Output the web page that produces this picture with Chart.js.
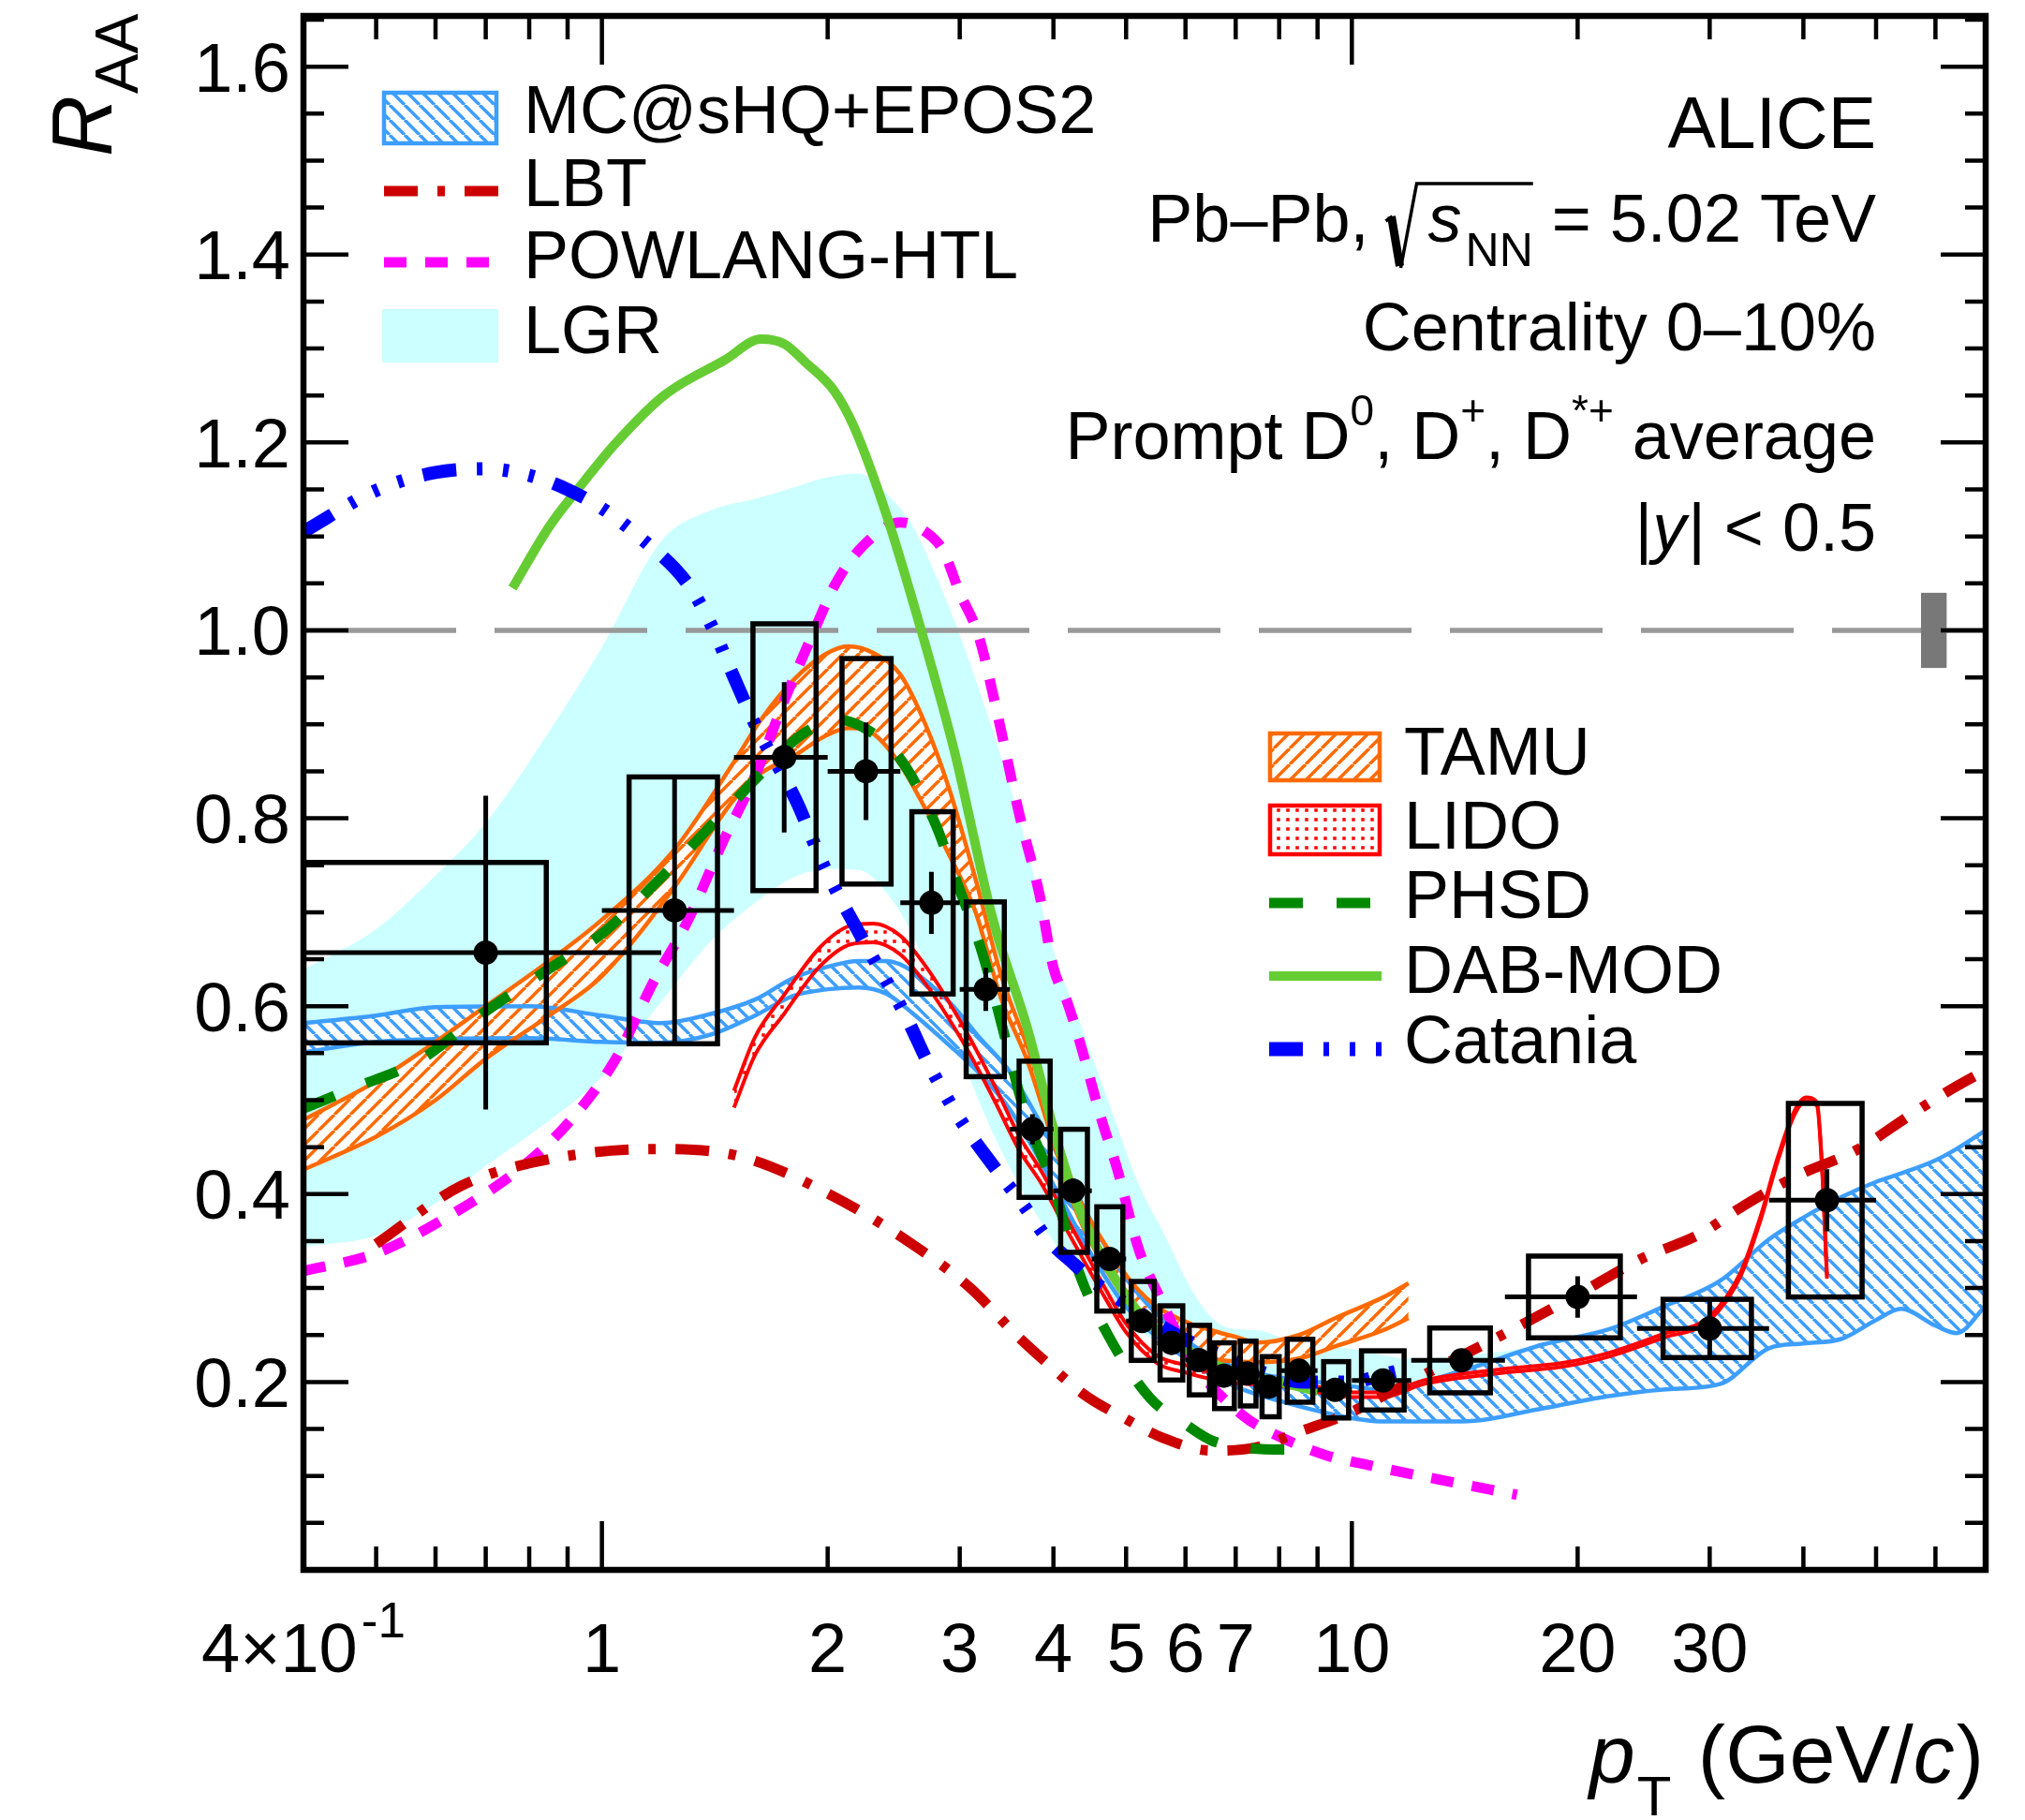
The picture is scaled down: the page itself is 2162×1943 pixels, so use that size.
<!DOCTYPE html>
<html>
<head>
<meta charset="utf-8">
<title>Prompt D-meson RAA, Pb-Pb 5.02 TeV</title>
<script src="https://cdn.jsdelivr.net/npm/chart.js@4.4.1/dist/chart.umd.min.js"></script>
<style>
  html, body { margin: 0; padding: 0; background: #fff; }
  canvas { display: block; }
</style>
</head>
<body>
<canvas id="raaChart" width="2162" height="1943"></canvas>
<script>
// ---------------- measured points (ALICE, 0-10%) ----------------
const ptC = [0.7, 1.25, 1.75, 2.25, 2.75, 3.25, 3.75, 4.25, 4.75, 5.25, 5.75, 6.25, 6.75, 7.25, 7.75, 8.5, 9.5, 11, 14, 20, 30, 43];
const ptLo = [0.2, 1, 1.5, 2, 2.5, 3, 3.5, 4, 4.5, 5, 5.5, 6, 6.5, 7, 7.5, 8, 9, 10, 12, 16, 24, 36];
const ptHi = [1.2, 1.5, 2, 2.5, 3, 3.5, 4, 4.5, 5, 5.5, 6, 6.5, 7, 7.5, 8, 9, 10, 12, 16, 24, 36, 50];
const raa = [0.657, 0.702, 0.865, 0.85, 0.71, 0.618, 0.469, 0.4035, 0.331, 0.265, 0.2416, 0.2233, 0.2067, 0.209, 0.195, 0.212, 0.1917, 0.2017, 0.223, 0.2905, 0.257, 0.3935];
const statErr = [0.167, 0.14, 0.08, 0.052, 0.033, 0.023, 0.016, 0.013, 0.012, 0.011, 0.011, 0.01, 0.01, 0.01, 0.01, 0.01, 0.01, 0.012, 0.012, 0.022, 0.029, 0.033];
const systErr = [0.096, 0.142, 0.142, 0.12, 0.097, 0.093, 0.0725, 0.0655, 0.0555, 0.042, 0.0395, 0.037, 0.035, 0.0345, 0.032, 0.0335, 0.03, 0.0315, 0.0345, 0.0435, 0.031, 0.103];
const boxLo = [0.35, 1.087, 1.59, 2.09, 2.59, 3.06, 3.6, 4.09, 4.57, 5.08, 5.55, 6.07, 6.56, 7.1, 7.59, 8.2, 9.17, 10.3, 12.7, 17.2, 26, 38.2];
const boxHi = [0.843, 1.426, 1.93, 2.43, 2.94, 3.44, 3.96, 4.44, 4.95, 5.45, 5.95, 6.46, 6.97, 7.45, 8.0, 8.87, 9.9, 11.74, 15.3, 22.8, 34.1, 47.9];

// normalisation uncertainty box at RAA = 1
const normPt = [57.4, 62.1];
const normR = [0.96, 1.04];

// ---------------- model bands ----------------
const lgrPt = [0.4, 0.5, 0.6, 0.7, 0.85, 1.0, 1.2, 1.4, 1.6, 1.8, 2.0, 2.2, 2.4, 2.6, 2.8, 3.0, 3.3, 3.6, 4.0, 4.4, 4.8, 5.2, 5.6, 6.2, 6.8, 7.5, 8.2, 9, 10, 12, 15, 20, 25, 30, 35, 40];
const lgrHigh = [0.639, 0.682, 0.739, 0.795, 0.892, 0.982, 1.095, 1.128, 1.14, 1.152, 1.163, 1.167, 1.145, 1.11, 1.055, 0.995, 0.9, 0.8, 0.66, 0.57, 0.485, 0.41, 0.36, 0.29, 0.258, 0.255, 0.245, 0.24, 0.235, 0.225, 0.23, 0.245, 0.26, 0.27, 0.3, 0.33];
const lgrLow = [0.344, 0.356, 0.39, 0.43, 0.478, 0.525, 0.605, 0.67, 0.71, 0.737, 0.746, 0.745, 0.72, 0.675, 0.61, 0.55, 0.47, 0.41, 0.35, 0.31, 0.28, 0.255, 0.24, 0.225, 0.215, 0.205, 0.2, 0.195, 0.19, 0.19, 0.195, 0.205, 0.215, 0.225, 0.24, 0.26];

const mcPt = [0.4, 0.5, 0.6, 0.8, 1.0, 1.2, 1.4, 1.6, 1.8, 2.0, 2.2, 2.4, 2.6, 2.9, 3.2, 3.5, 4.0, 4.5, 5.0, 6.0, 7.0, 8.0, 9.5, 11, 14, 18, 22, 26, 31, 36, 40, 45, 50, 54, 60, 64, 70];
const mcHigh = [0.582, 0.59, 0.599, 0.6, 0.59, 0.582, 0.592, 0.607, 0.63, 0.642, 0.648, 0.648, 0.637, 0.605, 0.565, 0.53, 0.45, 0.37, 0.31, 0.245, 0.215, 0.205, 0.198, 0.192, 0.212, 0.24, 0.256, 0.28, 0.308, 0.352, 0.375, 0.397, 0.413, 0.422, 0.436, 0.448, 0.468];
const mcLow = [0.551, 0.562, 0.565, 0.566, 0.562, 0.561, 0.57, 0.59, 0.611, 0.618, 0.62, 0.613, 0.592, 0.559, 0.527, 0.49, 0.41, 0.335, 0.28, 0.225, 0.195, 0.18, 0.165, 0.158, 0.158, 0.172, 0.185, 0.192, 0.198, 0.236, 0.241, 0.246, 0.266, 0.278, 0.26, 0.252, 0.281];

const tamuPt = [0.4, 0.5, 0.6, 0.7, 0.85, 1.0, 1.25, 1.5, 1.63, 1.8, 1.98, 2.13, 2.3, 2.5, 2.7, 2.9, 3.15, 3.4, 3.7, 4.0, 4.3, 4.7, 5.1, 5.5, 6.1, 6.5, 7.0, 7.5, 8.5, 9.5, 11, 11.9];
const tamuHigh = [0.479, 0.52, 0.562, 0.6, 0.648, 0.692, 0.767, 0.86, 0.905, 0.947, 0.974, 0.983, 0.976, 0.953, 0.9, 0.833, 0.735, 0.635, 0.555, 0.475, 0.4, 0.345, 0.305, 0.28, 0.262, 0.255, 0.248, 0.242, 0.25, 0.268, 0.29, 0.305];
const tamuLow = [0.426, 0.461, 0.5, 0.544, 0.59, 0.632, 0.727, 0.82, 0.848, 0.866, 0.887, 0.896, 0.89, 0.857, 0.81, 0.762, 0.7, 0.61, 0.54, 0.455, 0.38, 0.32, 0.28, 0.255, 0.235, 0.225, 0.222, 0.221, 0.225, 0.238, 0.255, 0.268];

const lidoPt = [1.5, 1.6, 1.75, 1.95, 2.15, 2.3, 2.5, 2.7, 2.9, 3.1, 3.35, 3.6, 3.85, 4.1, 4.4, 4.7, 5.0, 5.5, 6.0, 6.5, 7.0, 8.0, 9.0, 10, 11, 12.5, 16, 19, 22, 26, 30, 33, 35, 37, 39, 40.3, 41.7, 42.4, 43];
const lidoHigh = [0.51, 0.567, 0.612, 0.662, 0.686, 0.688, 0.675, 0.643, 0.605, 0.565, 0.513, 0.462, 0.425, 0.385, 0.34, 0.298, 0.262, 0.228, 0.218, 0.21, 0.206, 0.202, 0.195, 0.189, 0.189, 0.202, 0.214, 0.22, 0.231, 0.251, 0.27, 0.317, 0.374, 0.44, 0.49, 0.503, 0.498, 0.424, 0.314];
const lidoLow = [0.492, 0.548, 0.592, 0.642, 0.666, 0.668, 0.655, 0.624, 0.587, 0.548, 0.497, 0.447, 0.412, 0.372, 0.328, 0.288, 0.253, 0.22, 0.21, 0.203, 0.199, 0.196, 0.189, 0.184, 0.184, 0.198, 0.21, 0.216, 0.227, 0.247, 0.266, 0.313, 0.37, 0.436, 0.486, 0.499, 0.494, 0.42, 0.31];

// ---------------- model curves ----------------
const lbtPt = [0.5, 0.65, 0.85, 1.17, 1.53, 2.02, 2.59, 3.1, 3.55, 3.9, 4.39, 4.96, 5.62, 6.49, 7.41, 8.58, 9.8, 11, 12.5, 15, 17.5, 20.2, 24.3, 29.2, 32.9, 38.9, 47.4, 55.5, 62.8, 70];
const lbtR = [0.347, 0.409, 0.437, 0.448, 0.44, 0.399, 0.347, 0.3, 0.252, 0.222, 0.187, 0.162, 0.14, 0.127, 0.13, 0.148, 0.165, 0.185, 0.208, 0.24, 0.268, 0.295, 0.331, 0.358, 0.385, 0.418, 0.448, 0.484, 0.511, 0.532];

const powPt = [0.4, 0.5, 0.62, 0.78, 0.9, 1.04, 1.17, 1.3, 1.45, 1.6, 1.75, 1.92, 2.05, 2.23, 2.5, 2.7, 2.85, 3.0, 3.18, 3.37, 3.6, 3.83, 4.0, 4.17, 4.33, 4.63, 4.86, 5.2, 5.56, 6.13, 7.14, 8.0, 9.24, 10.6, 12.9, 16.6];
const powR = [0.318, 0.337, 0.375, 0.428, 0.475, 0.542, 0.625, 0.69, 0.775, 0.845, 0.925, 1.0, 1.05, 1.09, 1.115, 1.105, 1.085, 1.04, 0.994, 0.91, 0.805, 0.72, 0.641, 0.605, 0.564, 0.481, 0.428, 0.341, 0.288, 0.222, 0.165, 0.142, 0.122, 0.111, 0.097, 0.08];

const phsdPt = [0.4, 0.46, 0.57, 0.69, 0.84, 1.01, 1.21, 1.44, 1.65, 1.84, 2.06, 2.25, 2.49, 2.77, 2.99, 3.22, 3.45, 3.65, 4.0, 4.32, 4.73, 5.38, 6.0, 6.49, 7.2, 8.13, 8.6];
const phsdR = [0.491, 0.511, 0.542, 0.591, 0.637, 0.68, 0.74, 0.803, 0.852, 0.888, 0.905, 0.895, 0.865, 0.798, 0.727, 0.655, 0.566, 0.491, 0.408, 0.318, 0.25, 0.183, 0.155, 0.138, 0.13, 0.128, 0.128];

const dabPt = [0.76, 0.85, 0.95, 1.04, 1.21, 1.46, 1.63, 1.75, 1.87, 2.04, 2.17, 2.4, 2.67, 2.95, 3.32, 3.7, 4.0, 4.3, 4.75, 5.25, 6.0, 7.0, 8.0, 9.0];
const dabR = [1.045, 1.11, 1.16, 1.198, 1.25, 1.288, 1.31, 1.305, 1.285, 1.255, 1.216, 1.121, 0.998, 0.872, 0.693, 0.574, 0.47, 0.39, 0.32, 0.27, 0.235, 0.21, 0.2, 0.19];

const catPt = [0.4, 0.5, 0.6, 0.7, 0.8, 0.9, 1.0, 1.12, 1.3, 1.4, 1.5, 1.6, 1.815, 1.98, 2.22, 2.54, 2.74, 3.0, 3.32, 3.65, 3.94, 4.27, 4.51, 5.0, 5.5, 6.0, 6.7, 7.5, 8.6, 10, 11, 12];
const catR = [1.105, 1.149, 1.168, 1.172, 1.165, 1.15, 1.13, 1.1, 1.05, 1.005, 0.95, 0.9, 0.819, 0.748, 0.673, 0.59, 0.535, 0.48, 0.431, 0.388, 0.351, 0.325, 0.308, 0.283, 0.262, 0.245, 0.228, 0.212, 0.2, 0.2, 0.208, 0.215];

// ---------------- axis ticks ----------------
const xMinorTicks = [0.5, 0.6, 0.7, 0.8, 0.9, 2, 3, 4, 5, 6, 7, 8, 9, 20, 30, 40, 50, 60];
const xMajorTicks = [1, 10];
const xLabelValues = [1, 2, 3, 4, 5, 6, 7, 10, 20, 30];
const yLabels = ['0.2', '0.4', '0.6', '0.8', '1.0', '1.2', '1.4', '1.6'];

const FONT = '"Liberation Sans", Arial, Helvetica, sans-serif';
const col = {
  lgr: 'rgb(204,255,255)',
  mc: 'rgb(61,158,255)',
  tamu: 'rgb(255,106,0)',
  lido: 'rgb(255,0,0)',
  lbt: 'rgb(204,0,0)',
  pow: 'rgb(255,0,255)',
  phsd: 'rgb(0,136,0)',
  dab: 'rgb(102,204,51)',
  cat: 'rgb(0,0,255)',
  unity: 'rgb(153,153,153)'
};
const dashes = {
  lbt: [36, 21, 8, 21],
  pow: [24, 20],
  phsd: [36, 36],
  cat: [36, 22, 6, 22, 6, 22, 6, 22],
  unity: [163, 41]
};

const canvas = document.getElementById('raaChart');
const mainCtx = canvas.getContext('2d');

// hatch patterns (white background + diagonal lines)
function makeHatch(color, forward, step, lw) {
  const c = document.createElement('canvas');
  c.width = step;
  c.height = step;
  const g = c.getContext('2d');
  g.fillStyle = '#ffffff';
  g.fillRect(0, 0, step, step);
  g.strokeStyle = color;
  g.lineWidth = lw;
  g.beginPath();
  for (let k = -1; k <= 1; k++) {
    if (forward) {
      g.moveTo(k * step, step);
      g.lineTo((k + 1) * step, 0);
    } else {
      g.moveTo(k * step, 0);
      g.lineTo((k + 1) * step, step);
    }
  }
  g.stroke();
  return mainCtx.createPattern(c, 'repeat');
}

function makeDots(color, step, size) {
  const c = document.createElement('canvas');
  c.width = step;
  c.height = step;
  const g = c.getContext('2d');
  g.fillStyle = '#ffffff';
  g.fillRect(0, 0, step, step);
  g.fillStyle = color;
  g.fillRect(step / 2 - size / 2, step / 2 - size / 2, size, size);
  return mainCtx.createPattern(c, 'repeat');
}

const mcHatch = makeHatch(col.mc, false, 16, 3.5);
const tamuHatch = makeHatch(col.tamu, true, 17, 3.5);
const lidoDots = makeDots(col.lido, 10, 3.5);

function pts(xs, ys) {
  return xs.map((x, i) => ({ x: x, y: ys[i] }));
}

function curve(xs, ys, color, width, dash, order) {
  return {
    data: pts(xs, ys),
    borderColor: color,
    borderWidth: width,
    borderDash: dash || [],
    borderCapStyle: 'butt',
    pointRadius: 0,
    fill: false,
    cubicInterpolationMode: 'monotone',
    clip: 0,
    order: order
  };
}

const datasets = [
  // 0,1 LGR band
  curve(lgrPt, lgrLow, 'rgba(0,0,0,0)', 1, null, 20),
  Object.assign(curve(lgrPt, lgrHigh, 'rgba(0,0,0,0)', 1, null, 21), { fill: 0, backgroundColor: col.lgr }),
  // 2 unity line
  curve([0.4, 70], [1, 1], col.unity, 5.5, dashes.unity, 15),
  // 3,4 MC@sHQ+EPOS2
  curve(mcPt, mcLow, col.mc, 4.5, null, 13),
  Object.assign(curve(mcPt, mcHigh, col.mc, 4.5, null, 14), { fill: 3, backgroundColor: mcHatch }),
  // 5,6 TAMU
  curve(tamuPt, tamuLow, col.tamu, 4.5, null, 11),
  Object.assign(curve(tamuPt, tamuHigh, col.tamu, 4.5, null, 12), { fill: 5, backgroundColor: tamuHatch }),
  // 7,8 LIDO
  curve(lidoPt, lidoLow, col.lido, 4, null, 9),
  Object.assign(curve(lidoPt, lidoHigh, col.lido, 4, null, 10), { fill: 7, backgroundColor: lidoDots }),
  // 9..13 curves
  curve(powPt, powR, col.pow, 11, dashes.pow, 8),
  curve(lbtPt, lbtR, col.lbt, 11, dashes.lbt, 7),
  curve(phsdPt, phsdR, col.phsd, 11, dashes.phsd, 6),
  curve(dabPt, dabR, col.dab, 10, null, 5),
  curve(catPt, catR, col.cat, 14, dashes.cat, 4),
  // 14 data markers
  {
    data: pts(ptC, raa),
    showLine: false,
    pointRadius: 13,
    pointBackgroundColor: '#000',
    pointBorderColor: '#000',
    pointBorderWidth: 0,
    clip: 0,
    order: 0
  }
];
const MARKER_INDEX = 14;

function font(size, italic) {
  return (italic ? 'italic ' : '') + size + 'px ' + FONT;
}

// draws a row of text pieces, returns the left x
function drawParts(ctx, parts, x, y, align) {
  let total = 0;
  parts.forEach(p => {
    ctx.font = font(p.s, p.i);
    p.w = ctx.measureText(p.t).width;
    total += p.w + (p.gap || 0);
  });
  let cx = align === 'right' ? x - total : align === 'center' ? x - total / 2 : x;
  const left = cx;
  parts.forEach(p => {
    ctx.font = font(p.s, p.i);
    ctx.fillText(p.t, cx, y + (p.dy || 0));
    cx += p.w + (p.gap || 0);
  });
  return left;
}

// systematic boxes + error bars, drawn right before the markers
const dataBars = {
  id: 'dataBars',
  beforeDatasetDraw(chart, args) {
    if (args.index !== MARKER_INDEX) return;
    const { ctx, chartArea: a, scales: { x, y } } = chart;
    ctx.save();
    ctx.beginPath();
    ctx.rect(a.left, a.top, a.right - a.left, a.bottom - a.top);
    ctx.clip();
    ctx.strokeStyle = '#000';
    ctx.lineWidth = 5.5;
    ctx.setLineDash([]);
    for (let i = 0; i < ptC.length; i++) {
      const x0 = x.getPixelForValue(boxLo[i]);
      const x1 = x.getPixelForValue(boxHi[i]);
      const y0 = y.getPixelForValue(raa[i] + systErr[i]);
      const y1 = y.getPixelForValue(raa[i] - systErr[i]);
      ctx.strokeRect(x0, y0, x1 - x0, y1 - y0);
    }
    ctx.lineWidth = 5;
    ctx.beginPath();
    for (let i = 0; i < ptC.length; i++) {
      const xc = x.getPixelForValue(ptC[i]);
      const yc = y.getPixelForValue(raa[i]);
      ctx.moveTo(x.getPixelForValue(ptLo[i]), yc);
      ctx.lineTo(x.getPixelForValue(ptHi[i]), yc);
      ctx.moveTo(xc, y.getPixelForValue(raa[i] + statErr[i]));
      ctx.lineTo(xc, y.getPixelForValue(raa[i] - statErr[i]));
    }
    ctx.stroke();
    // normalisation box
    ctx.fillStyle = 'rgb(120,120,120)';
    const nx0 = x.getPixelForValue(normPt[0]);
    const nx1 = x.getPixelForValue(normPt[1]);
    const ny0 = y.getPixelForValue(normR[1]);
    const ny1 = y.getPixelForValue(normR[0]);
    ctx.fillRect(nx0, ny0, nx1 - nx0, ny1 - ny0);
    ctx.restore();
  }
};

// frame, ticks, labels, legends and annotations
const decorations = {
  id: 'decorations',
  afterDraw(chart) {
    const { ctx, chartArea: a, scales: { x, y } } = chart;
    ctx.save();
    ctx.strokeStyle = '#000';
    ctx.fillStyle = '#000';
    ctx.setLineDash([]);

    // ticks
    ctx.lineWidth = 4.5;
    ctx.beginPath();
    xMinorTicks.concat(xMajorTicks).forEach(v => {
      const len = xMajorTicks.includes(v) ? 52 : 25;
      const px = x.getPixelForValue(v);
      ctx.moveTo(px, a.bottom);
      ctx.lineTo(px, a.bottom - len);
      ctx.moveTo(px, a.top);
      ctx.lineTo(px, a.top + len);
    });
    for (let k = 1; k * 0.05 < y.max; k++) {
      const len = k % 4 === 0 ? 48 : 22;
      const py = y.getPixelForValue(k * 0.05);
      ctx.moveTo(a.left, py);
      ctx.lineTo(a.left + len, py);
      ctx.moveTo(a.right, py);
      ctx.lineTo(a.right - len, py);
    }
    ctx.stroke();

    // frame
    ctx.lineWidth = 6.5;
    ctx.strokeRect(a.left, a.top, a.right - a.left, a.bottom - a.top);

    // y tick labels
    ctx.textAlign = 'left';
    ctx.textBaseline = 'alphabetic';
    yLabels.forEach(t => {
      const py = y.getPixelForValue(parseFloat(t));
      drawParts(ctx, [{ t: t, s: 74 }], 310, py + 26.5, 'right');
    });

    // x tick labels
    const xBase = 1785;
    xLabelValues.forEach(v => {
      drawParts(ctx, [{ t: String(v), s: 74 }], x.getPixelForValue(v), xBase, 'center');
    });
    drawParts(ctx, [{ t: '4\u00d710', s: 74, gap: 4 }, { t: '-1', s: 53, dy: -37 }],
      x.getPixelForValue(0.4), xBase, 'center');

    // axis titles
    drawParts(ctx, [
      { t: 'p', s: 88, i: true, gap: 2 },
      { t: 'T', s: 60, dy: 35, gap: 4 },
      { t: ' (GeV/', s: 88 },
      { t: 'c', s: 88, i: true, gap: 2 },
      { t: ')', s: 88 }
    ], 2118, 1903, 'right');

    ctx.save();
    ctx.translate(119, 167);
    ctx.rotate(-Math.PI / 2);
    drawParts(ctx, [{ t: 'R', s: 90, i: true, gap: 2 }, { t: 'AA', s: 64, dy: 28 }], 0, 0, 'left');
    ctx.restore();

    // annotations (right aligned)
    const rx = 2003;
    drawParts(ctx, [{ t: 'ALICE', s: 77 }], rx, 158, 'right');
    // Pb-Pb line with square root
    const yb = 258;
    ctx.font = font(72);
    const tail = ' = 5.02 TeV';
    let xr = rx - ctx.measureText(tail).width;
    ctx.fillText(tail, xr, yb);
    const nnEnd = xr;
    ctx.font = font(50);
    xr -= ctx.measureText('NN').width;
    ctx.fillText('NN', xr, yb + 26);
    ctx.font = font(72, true);
    xr -= ctx.measureText('s').width + 4;
    ctx.fillText('s', xr, yb);
    const r0 = xr - 45;
    const rTop = yb - 62;
    const rBot = yb + 28;
    ctx.lineJoin = 'miter';
    ctx.lineWidth = 3.5;
    ctx.beginPath();
    ctx.moveTo(r0, yb - 22);
    ctx.lineTo(r0 + 7, yb - 27);
    ctx.moveTo(r0 + 16, rBot);
    ctx.lineTo(r0 + 33, rTop);
    ctx.lineTo(nnEnd, rTop);
    ctx.stroke();
    ctx.lineWidth = 9;
    ctx.beginPath();
    ctx.moveTo(r0 + 6, yb - 27);
    ctx.lineTo(r0 + 15, rBot - 2);
    ctx.stroke();
    drawParts(ctx, [{ t: 'Pb\u2013Pb,', s: 72 }], r0 - 18, yb, 'right');

    drawParts(ctx, [{ t: 'Centrality 0\u201310%', s: 72 }], rx, 374, 'right');
    drawParts(ctx, [
      { t: 'Prompt D', s: 72 },
      { t: '0', s: 46, dy: -36 },
      { t: ', D', s: 72 },
      { t: '+', s: 46, dy: -36 },
      { t: ', D', s: 72 },
      { t: '*+', s: 46, dy: -36 },
      { t: ' average', s: 72 }
    ], rx, 490, 'right');
    drawParts(ctx, [
      { t: '|', s: 72 },
      { t: 'y', s: 72, i: true, gap: 2 },
      { t: '| < 0.5', s: 72 }
    ], rx, 588, 'right');

    // legends
    function boxEntry(x0, y0, x1, y1, fill, stroke) {
      ctx.fillStyle = fill;
      ctx.fillRect(x0, y0, x1 - x0, y1 - y0);
      if (stroke) {
        ctx.strokeStyle = stroke;
        ctx.lineWidth = 4.5;
        ctx.setLineDash([]);
        ctx.strokeRect(x0, y0, x1 - x0, y1 - y0);
      }
      ctx.fillStyle = '#000';
    }
    function lineEntry(x0, x1, yy, color, width, dash) {
      ctx.strokeStyle = color;
      ctx.lineWidth = width;
      ctx.lineCap = 'butt';
      ctx.setLineDash(dash || []);
      ctx.beginPath();
      ctx.moveTo(x0, yy);
      ctx.lineTo(x1, yy);
      ctx.stroke();
      ctx.setLineDash([]);
    }

    boxEntry(410, 99, 530, 153, mcHatch, col.mc);
    lineEntry(410, 532, 204, col.lbt, 11, dashes.lbt);
    lineEntry(410, 522, 280, col.pow, 11, dashes.pow);
    boxEntry(408, 330, 532, 387, col.lgr, null);
    drawParts(ctx, [{ t: 'MC@sHQ+EPOS2', s: 72 }], 559, 142, 'left');
    drawParts(ctx, [{ t: 'LBT', s: 72 }], 559, 220, 'left');
    drawParts(ctx, [{ t: 'POWLANG-HTL', s: 72 }], 559, 297, 'left');
    drawParts(ctx, [{ t: 'LGR', s: 72 }], 559, 377, 'left');

    boxEntry(1356, 783, 1473, 833, tamuHatch, col.tamu);
    boxEntry(1356, 860, 1473, 912, lidoDots, col.lido);
    lineEntry(1355, 1463, 964, col.phsd, 11, dashes.phsd);
    lineEntry(1355, 1475, 1042, col.dab, 10, null);
    lineEntry(1355, 1475, 1120, col.cat, 15, dashes.cat);
    drawParts(ctx, [{ t: 'TAMU', s: 72 }], 1499, 827, 'left');
    drawParts(ctx, [{ t: 'LIDO', s: 72 }], 1499, 906, 'left');
    drawParts(ctx, [{ t: 'PHSD', s: 72 }], 1499, 980, 'left');
    drawParts(ctx, [{ t: 'DAB-MOD', s: 72 }], 1499, 1060, 'left');
    drawParts(ctx, [{ t: 'Catania', s: 72 }], 1499, 1135, 'left');

    ctx.restore();
  }
};

new Chart(canvas, {
  type: 'line',
  data: { datasets: datasets },
  options: {
    responsive: false,
    animation: false,
    devicePixelRatio: 1,
    events: [],
    layout: { padding: { left: 324, right: 42, top: 17, bottom: 267 } },
    plugins: {
      legend: { display: false },
      tooltip: { enabled: false },
      filler: { drawTime: 'beforeDatasetsDraw' }
    },
    scales: {
      x: { type: 'logarithmic', min: 0.4, max: 70, display: false },
      y: { type: 'linear', min: 0, max: 1.654, display: false }
    }
  },
  plugins: [dataBars, decorations]
});
</script>
</body>
</html>
